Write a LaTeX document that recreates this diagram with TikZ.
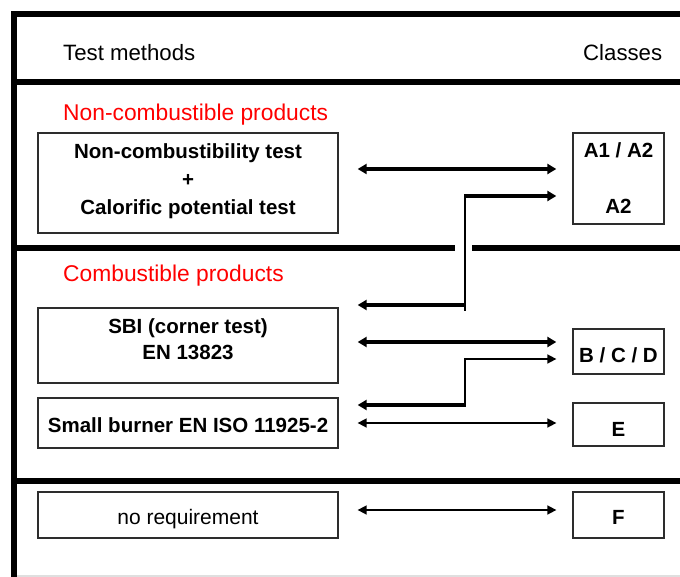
\documentclass[tikz,border=0pt]{standalone}
\usepackage{fontspec}
\setmainfont{Liberation Sans}
\usetikzlibrary{arrows.meta,calc}
\definecolor{redlbl}{RGB}{255,0,0}
\definecolor{boxline}{RGB}{45,45,45}
\newcommand\vmove[2]{\raisebox{#1}[\height][\depth]{#2}}
\newcommand\stacklines[1]{\begin{tabular}{@{}c@{}}#1\end{tabular}}
\begin{document}
\begin{tikzpicture}[x=1pt,y=-1pt,
  frame/.style={line width=6pt, black},
  box/.style={draw=boxline, line width=1.3pt, inner sep=0pt, align=center,
    font=\fontsize{20.5}{28}\selectfont\bfseries},
  clsbox/.style={box, minimum width=91pt},
  hdr/.style={anchor=base west, inner sep=0pt, font=\fontsize{22.2}{26}\selectfont},
  sect/.style={anchor=base west, inner sep=0pt, text=redlbl, font=\fontsize{22.8}{26}\selectfont},
  thk/.style={line width=4.5pt},
  thn/.style={line width=1.6pt},
  tipk/.tip={Triangle[length=9pt,width=10pt]},
  tipn/.tip={Triangle[length=9pt,width=9pt]},
  toleft/.style={shorten >=19pt},
  toright/.style={shorten >=16pt},
  both/.style={shorten <=19pt, shorten >=16pt}
]
\useasboundingbox (0,0) rectangle (680,577);

% frame
\draw[gray!25, line width=1.5pt] (14,576) -- (680,576);
\draw[frame] (14,577) -- (14,14) -- (680,14);
\draw[frame] (14,82.5) -- (680,82.5);
\draw[frame] (14,248) -- (455,248);
\draw[frame] (472,248) -- (680,248);
\draw[frame] (14,481) -- (680,481);

% headers
\node[hdr] (h1) at (63,60.7) {Test methods};
\node[hdr] (h2) at (583,60.7) {Classes};
\node[sect] (s1) at (63,120.5) {Non-combustible products};
\node[sect] (s2) at (63,282) {Combustible products};

% left boxes
\node[box, minimum width=300pt, minimum height=100pt] (nc) at (188,183)
  {\vmove{2pt}{\stacklines{Non-combustibility test\\+\\Calorific potential test}}};
\node[box, minimum width=300pt, minimum height=75pt,
  font=\fontsize{20.5}{26}\selectfont\bfseries] (sbi) at (188,345.5)
  {\vmove{4.5pt}{\stacklines{SBI (corner test)\\EN 13823}}};
\node[box, minimum width=300pt, minimum height=50pt] (sb) at (188,423)
  {\vmove{-2pt}{Small burner EN ISO 11925-2}};
\node[box, minimum width=300pt, minimum height=46pt,
  font=\fontsize{21}{25}\selectfont] (nr) at (188,515) {\vmove{-4.5pt}{no requirement}};

% class boxes
\node[clsbox, minimum height=91pt, font=\fontsize{20.5}{56}\selectfont\bfseries]
  (a) at (618.5,178.5) {A1 / A2\\A2};
\node[clsbox, minimum height=45pt] (bcd) at (618.5,351.5) {\vmove{-4pt}{B / C / D}};
\node[clsbox, minimum height=43pt] (e) at (618.5,424.5) {\vmove{-4.5pt}{E}};
\node[clsbox, minimum height=46pt] (f) at (618.5,515) {\vmove{-2.5pt}{F}};

% junctions and row levels
\coordinate (ja) at (465,196);
\coordinate (jb) at (465,305);
\coordinate (jbx) at (465,311);
\coordinate (jc) at (465,359);
\coordinate (jd) at (465,405);
\coordinate (r1) at (465,169);
\coordinate (r2) at (465,342);
\coordinate (r3) at (465,423);
\coordinate (r4) at (465,510);

% connectors
\draw[thk, tipk-tipk, both] (nc.east |- r1) -- (a.west |- r1);
\draw[thn] (jbx) -- (ja);
\draw[thk, -tipk, toright] ([xshift=-0.8pt]ja) -- (a.west |- ja);
\draw[thk, -tipk, toleft] ([xshift=0.8pt]jb) -- (nc.east |- jb);

\draw[thk, tipk-tipk, both] (sbi.east |- r2) -- (bcd.west |- r2);
\draw[thn] (jd) -- (jc);
\draw[thn, -tipn, toright] ([xshift=-0.8pt]jc) -- (bcd.west |- jc);
\draw[thk, -tipk, toleft] ([xshift=0.8pt]jd) -- (sb.east |- jd);
\draw[thn, tipn-tipn, both] (sb.east |- r3) -- (e.west |- r3);

\draw[thn, tipn-tipn, both] (nr.east |- r4) -- (f.west |- r4);
\end{tikzpicture}
\end{document}
